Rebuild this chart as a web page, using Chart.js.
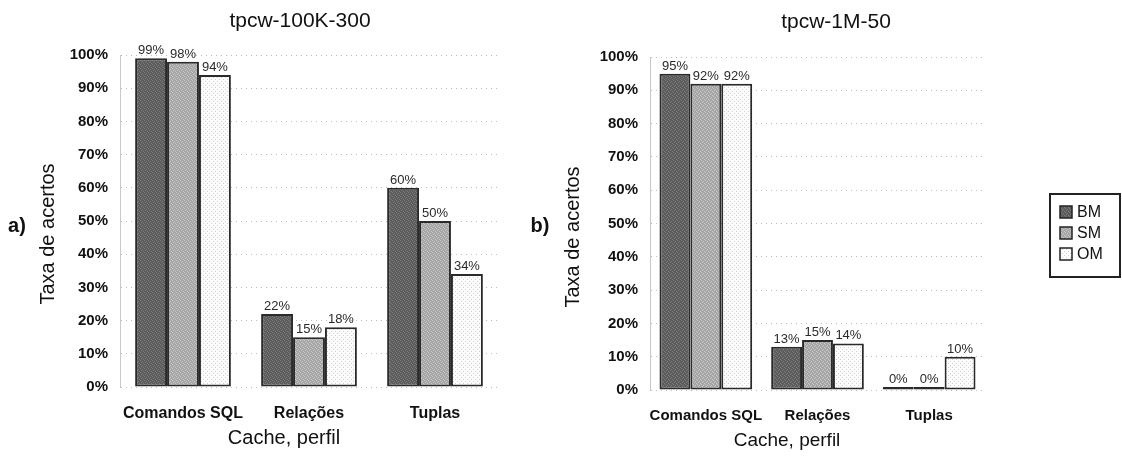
<!DOCTYPE html>
<html>
<head>
<meta charset="utf-8">
<script src="https://cdn.jsdelivr.net/npm/chart.js@4/dist/chart.umd.min.js"></script>
<style>
  html, body { margin: 0; padding: 0; background: #fff; }
  body { width: 1122px; height: 458px; position: relative; overflow: hidden; }
  canvas { position: absolute; top: 0; }
  #chartA { left: 0; }
  #chartB { left: 525px; }
</style>
</head>
<body>
<canvas id="chartA" width="515" height="458"></canvas>
<canvas id="chartB" width="597" height="458"></canvas>
<script>
// Categories and series (hit rate, %)
const categories = ['Comandos SQL', 'Relações', 'Tuplas'];
const seriesNames = ['BM', 'SM', 'OM'];
const titleA = 'tpcw-100K-300';
const titleB = 'tpcw-1M-50';
const bmA = [99, 22, 60];
const smA = [98, 15, 50];
const omA = [94, 18, 34];
const bmB = [95, 13, 0];
const smB = [92, 15, 0];
const omB = [92, 14, 10];
const yTicks = [0, 10, 20, 30, 40, 50, 60, 70, 80, 90, 100];

const FONT = '"Liberation Sans", Arial, sans-serif';

// Small halftone tiles for the bar fills
function texture(ctx, bg, fg, cells) {
  const c = document.createElement('canvas');
  c.width = 4; c.height = 4;
  const t = c.getContext('2d');
  t.fillStyle = bg; t.fillRect(0, 0, 4, 4);
  t.fillStyle = fg;
  cells.forEach(([i, j]) => t.fillRect(i, j, 1, 1));
  return ctx.createPattern(c, 'repeat');
}
function fills(ctx) {
  return [
    texture(ctx, '#5c5c5c', '#7c7c7c', [[0,0],[2,1],[1,2],[3,3]]),
    texture(ctx, '#a6a6a6', '#c9c9c9', [[0,0],[2,1],[1,2],[3,3]]),
    texture(ctx, '#fcfcfc', '#d0d0d0', [[1,1],[3,3]])
  ];
}

// Value labels above the bars
const valueLabels = {
  id: 'valueLabels',
  afterDatasetsDraw(chart) {
    const ctx = chart.ctx;
    ctx.save();
    ctx.font = '13px ' + FONT;
    ctx.fillStyle = '#2a2a2a';
    ctx.textAlign = 'center';
    ctx.textBaseline = 'bottom';
    chart.data.datasets.forEach((ds, di) => {
      chart.getDatasetMeta(di).data.forEach((bar, i) => {
        ctx.fillText(ds.data[i] + '%', bar.x, bar.y - 1);
      });
    });
    ctx.restore();
  }
};

// Titles, axis names, panel letter and (optionally) legend
function decorations(cfg) {
  return {
    id: 'decorations',
    afterDraw(chart) {
      const ctx = chart.ctx;
      ctx.save();
      ctx.fillStyle = '#111';
      ctx.textAlign = 'center';
      ctx.textBaseline = 'middle';
      ctx.font = '21px ' + FONT;
      ctx.fillText(cfg.title, cfg.titleX, cfg.titleY);
      ctx.font = cfg.xTitleSize + 'px ' + FONT;
      ctx.fillText('Cache, perfil', cfg.xTitleX, cfg.xTitleY);
      ctx.font = 'bold 20px ' + FONT;
      ctx.fillText(cfg.letter, cfg.letterX, cfg.letterY);
      ctx.save();
      ctx.translate(cfg.yTitleX, cfg.yTitleY);
      ctx.rotate(-Math.PI / 2);
      ctx.font = '20px ' + FONT;
      ctx.fillText('Taxa de acertos', 0, 0);
      ctx.restore();
      if (cfg.legend) {
        const L = cfg.legend;
        ctx.strokeStyle = '#222';
        ctx.lineWidth = 2;
        ctx.strokeRect(L.x, L.y, L.w, L.h);
        ctx.textAlign = 'left';
        ctx.font = '16px ' + FONT;
        const ds = chart.data.datasets;
        ds.forEach((d, i) => {
          const cy = L.y + 18 + i * 21;
          ctx.fillStyle = d.backgroundColor;
          ctx.fillRect(L.x + 10, cy - 6, 12, 12);
          ctx.lineWidth = 1.5;
          ctx.strokeRect(L.x + 10, cy - 6, 12, 12);
          ctx.fillStyle = '#111';
          ctx.fillText(d.label, L.x + 27, cy + 1);
        });
      }
      ctx.restore();
    }
  };
}

function makeChart(id, values, opts) {
  const canvas = document.getElementById(id);
  const ctx = canvas.getContext('2d');
  const pats = fills(ctx);
  return new Chart(ctx, {
    type: 'bar',
    data: {
      labels: categories,
      datasets: values.map((v, i) => ({
        label: seriesNames[i],
        data: v,
        backgroundColor: pats[i],
        borderColor: '#2a2a2a',
        borderWidth: 2,
        borderSkipped: false,
        minBarLength: 3,
        categoryPercentage: opts.catPct,
        barPercentage: 1.0
      }))
    },
    options: {
      responsive: false,
      animation: false,
      devicePixelRatio: 1,
      layout: { padding: { left: 0, top: opts.top, right: opts.right, bottom: 0 } },
      plugins: {
        legend: { display: false },
        title: { display: false },
        tooltip: { enabled: false }
      },
      scales: {
        x: {
          grid: { display: false, drawTicks: false },
          border: { display: false },
          ticks: {
            padding: opts.xPad,
            color: '#111',
            autoSkip: false,
            maxRotation: 0,
            minRotation: 0,
            font: { family: FONT, size: opts.catSize, weight: 'bold' }
          },
          afterFit(s) { s.height = opts.xHeight; }
        },
        y: {
          min: 0,
          max: 100,
          afterBuildTicks(s) { s.ticks = yTicks.map(v => ({ value: v })); },
          grid: {
            color: '#bdbdbd',
            lineWidth: 1,
            drawTicks: false
          },
          border: { display: true, color: '#c8c8c8', dash: [1, 4] },
          ticks: {
            padding: 12,
            color: '#111',
            font: { family: FONT, size: 15, weight: 'bold' },
            callback: v => v + '%'
          },
          afterFit(s) { s.width = opts.yWidth; }
        }
      }
    },
    plugins: [valueLabels, decorations(opts.deco)]
  });
}

makeChart('chartA', [bmA, smA, omA], {
  top: 55, right: 17, yWidth: 120, xHeight: 71, xPad: 17,
  catSize: 16, catPct: 0.76,
  deco: {
    title: titleA, titleX: 300, titleY: 21,
    xTitleX: 284, xTitleY: 438, xTitleSize: 20,
    yTitleX: 48, yTitleY: 234,
    letter: 'a)', letterX: 17, letterY: 226
  }
});

makeChart('chartB', [bmB, smB, omB], {
  top: 57, right: 137, yWidth: 125, xHeight: 68, xPad: 17,
  catSize: 15, catPct: 0.83,
  deco: {
    title: titleB, titleX: 311, titleY: 22,
    xTitleX: 262, xTitleY: 441, xTitleSize: 19,
    yTitleX: 48, yTitleY: 237,
    letter: 'b)', letterX: 15, letterY: 226,
    legend: { x: 525, y: 194, w: 70, h: 83 }
  }
});
</script>
</body>
</html>
